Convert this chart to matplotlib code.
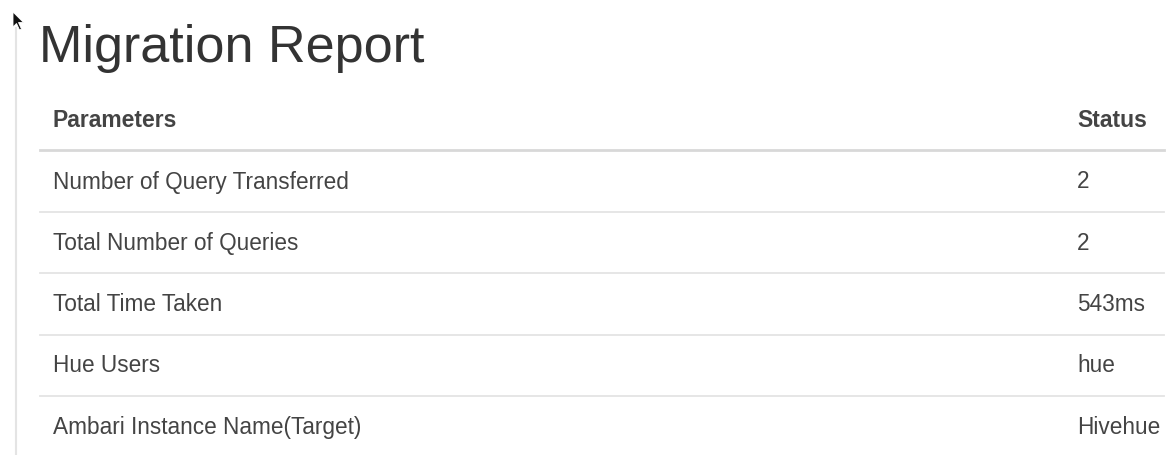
import matplotlib
matplotlib.use("Agg")
import matplotlib.pyplot as plt
from matplotlib.patches import Polygon

# Table content
title = "Migration Report"
headers = ["Parameters", "Status"]
parameters = ["Number of Query Transferred", "Total Number of Queries",
              "Total Time Taken", "Hue Users", "Ambari Instance Name(Target)"]
status = ["2", "2", "543ms", "hue", "Hivehue"]

W, H = 1167, 455
fig = plt.figure(figsize=(W / 100, H / 100), dpi=100)
ax = fig.add_axes([0, 0, 1, 1])
ax.set_xlim(0, W)
ax.set_ylim(H, 0)
ax.axis("off")

plt.rcParams['font.family'] = ['Liberation Sans', 'DejaVu Sans']
txt = "#444444"

# left page border
ax.plot([15.5, 15.5], [28, H], color="#e4e4e4", lw=1.5)

# mouse cursor
ax.add_patch(Polygon([(13, 12), (13, 27), (16.5, 23.5), (19.5, 30), (21.5, 29),
                      (18.5, 22.5), (23.5, 22.5)], closed=True,
                     facecolor="#111111", edgecolor="white", lw=0.6))

ax.text(39, 62, title, fontsize=37.5, color="#333333", va="baseline", ha="left")

x_left, x_right = 40, 1164
x_param, x_status = 53, 1077
ax.text(x_param, 127, headers[0], fontsize=16.5, fontweight="bold",
        color=txt, va="baseline")
ax.text(x_status, 127, headers[1], fontsize=16.5, fontweight="bold",
        color=txt, va="baseline")
ax.plot([x_left, x_right], [150, 150], color="#d8d8d8", lw=2)

row_h = 61.3
first_base = 188.5
for i, (p, s) in enumerate(zip(parameters, status)):
    y = first_base + i * row_h
    ax.text(x_param, y, p, fontsize=16.3, color=txt, va="baseline")
    ax.text(x_status, y, s, fontsize=16.3, color=txt, va="baseline")
    if i < len(parameters) - 1:
        ly = y + 23.5
        ax.plot([x_left, x_right], [ly, ly], color="#e4e4e4", lw=1.3)

fig.savefig("out.png", dpi=100)
